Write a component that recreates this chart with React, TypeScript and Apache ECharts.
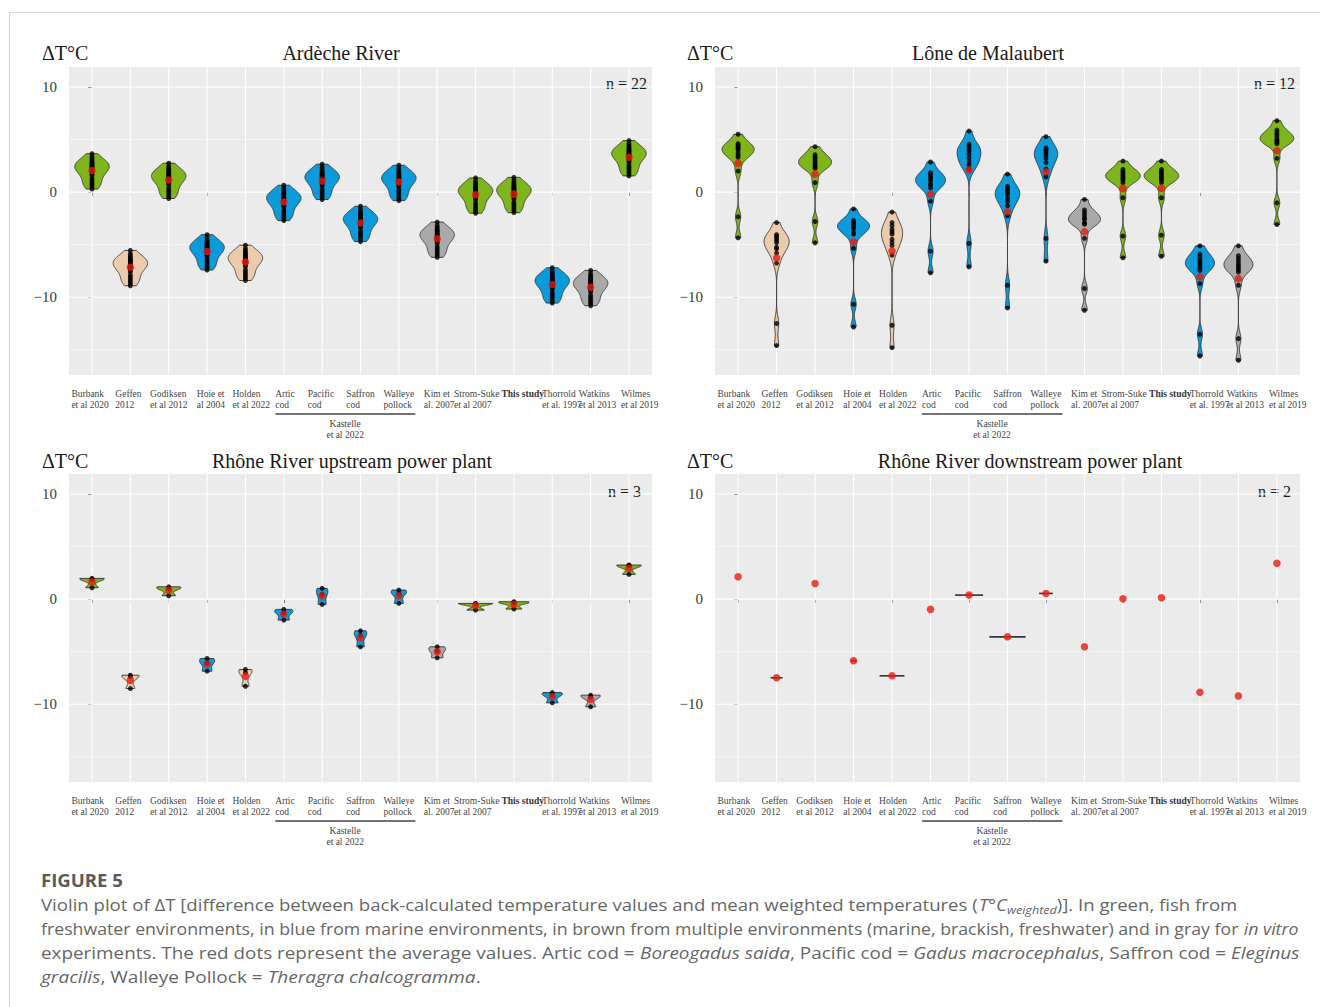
import React, { useEffect, useRef } from "react";
import * as echarts from "echarts";

// ---------------- DATA ----------------
const xLabels = [
  "Burbank\net al 2020", "Geffen\n2012", "Godiksen\net al 2012", "Hoie et\nal 2004", "Holden\net al 2022",
  "Artic\ncod", "Pacific\ncod", "Saffron\ncod", "Walleye\npollock", "Kim et\nal. 2007",
  "Strom-Suke\net al 2007", "This study", "Thorrold\net al. 1997", "Watkins\net al 2013", "Wilmes\net al 2019",
];
const environment = [
  "freshwater", "multiple", "freshwater", "marine", "multiple",
  "marine", "marine", "marine", "marine", "invitro",
  "freshwater", "freshwater", "marine", "invitro", "freshwater",
];
const yMajor = [10, 0, -10];
const yMinor = [5, -5, -15];
const panelTitles = ["Ardèche River", "Lône de Malaubert", "Rhône River upstream power plant", "Rhône River downstream power plant"];
const sampleSizes = [22, 12, 3, 2];
const groupLabel = "Kastelle\net al 2022";

// Ardèche River, n = 22 per study
const ardeche: number[][] = [
  [3.65, 3.35, 3.15, 3.0, 2.85, 2.75, 2.65, 2.55, 2.45, 2.35, 2.25, 2.15, 2.0, 1.9, 1.75, 1.6, 1.3, 1.1, 0.9, 0.7, 0.5, 0.29],
  [-5.55, -5.85, -6.05, -6.2, -6.35, -6.45, -6.55, -6.65, -6.75, -6.85, -6.95, -7.05, -7.2, -7.3, -7.45, -7.6, -7.9, -8.1, -8.3, -8.5, -8.7, -8.91],
  [2.75, 2.45, 2.25, 2.1, 1.95, 1.85, 1.75, 1.65, 1.55, 1.45, 1.35, 1.25, 1.1, 1.0, 0.85, 0.7, 0.4, 0.2, 0.0, -0.2, -0.4, -0.61],
  [-4.05, -4.35, -4.55, -4.7, -4.85, -4.95, -5.05, -5.15, -5.25, -5.35, -5.45, -5.55, -5.7, -5.8, -5.95, -6.1, -6.4, -6.6, -6.8, -7.0, -7.2, -7.41],
  [-5.05, -5.35, -5.55, -5.7, -5.85, -5.95, -6.05, -6.15, -6.25, -6.35, -6.45, -6.55, -6.7, -6.8, -6.95, -7.1, -7.4, -7.6, -7.8, -8.0, -8.2, -8.41],
  [0.65, 0.35, 0.15, 0.0, -0.15, -0.25, -0.35, -0.45, -0.55, -0.65, -0.75, -0.85, -1.0, -1.1, -1.25, -1.4, -1.7, -1.9, -2.1, -2.3, -2.5, -2.71],
  [2.65, 2.35, 2.15, 2.0, 1.85, 1.75, 1.65, 1.55, 1.45, 1.35, 1.25, 1.15, 1.0, 0.9, 0.75, 0.6, 0.3, 0.1, -0.1, -0.3, -0.5, -0.71],
  [-1.35, -1.65, -1.85, -2.0, -2.15, -2.25, -2.35, -2.45, -2.55, -2.65, -2.75, -2.85, -3.0, -3.1, -3.25, -3.4, -3.7, -3.9, -4.1, -4.3, -4.5, -4.71],
  [2.55, 2.25, 2.05, 1.9, 1.75, 1.65, 1.55, 1.45, 1.35, 1.25, 1.15, 1.05, 0.9, 0.8, 0.65, 0.5, 0.2, 0.0, -0.2, -0.4, -0.6, -0.81],
  [-2.85, -3.15, -3.35, -3.5, -3.65, -3.75, -3.85, -3.95, -4.05, -4.15, -4.25, -4.35, -4.5, -4.6, -4.75, -4.9, -5.2, -5.4, -5.6, -5.8, -6.0, -6.21],
  [1.35, 1.05, 0.85, 0.7, 0.55, 0.45, 0.35, 0.25, 0.15, 0.05, -0.05, -0.15, -0.3, -0.4, -0.55, -0.7, -1.0, -1.2, -1.4, -1.6, -1.8, -2.01],
  [1.4, 1.1, 0.9, 0.75, 0.6, 0.5, 0.4, 0.3, 0.2, 0.1, 0.0, -0.1, -0.25, -0.35, -0.5, -0.65, -0.95, -1.15, -1.35, -1.55, -1.75, -1.96],
  [-7.2, -7.5, -7.7, -7.85, -8.0, -8.1, -8.2, -8.3, -8.4, -8.5, -8.6, -8.7, -8.85, -8.95, -9.1, -9.25, -9.55, -9.75, -9.95, -10.15, -10.35, -10.56],
  [-7.45, -7.75, -7.95, -8.1, -8.25, -8.35, -8.45, -8.55, -8.65, -8.75, -8.85, -8.95, -9.1, -9.2, -9.35, -9.5, -9.8, -10.0, -10.2, -10.4, -10.6, -10.81],
  [4.9, 4.6, 4.4, 4.25, 4.1, 4.0, 3.9, 3.8, 3.7, 3.6, 3.5, 3.4, 3.25, 3.15, 3.0, 2.85, 2.55, 2.35, 2.15, 1.95, 1.75, 1.54],
];

// Lône de Malaubert, n = 12 per study
const loneMalaubert: number[][] = [
  [5.5, 4.6, 4.45, 4.3, 4.15, 4.0, 3.7, 3.5, 3.3, 2.0, -2.35, -4.35],
  [-2.9, -4.05, -4.2, -4.4, -4.6, -4.8, -5.25, -5.4, -5.8, -6.75, -12.5, -14.6],
  [4.32, 3.55, 3.35, 3.15, 2.95, 2.75, 2.55, 2.4, 2.25, 0.9, -2.8, -4.83],
  [-1.6, -2.7, -2.85, -3.0, -3.15, -3.3, -3.5, -3.85, -4.0, -5.35, -10.67, -12.83],
  [-1.9, -2.9, -3.2, -3.55, -3.8, -4.0, -4.5, -4.8, -5.1, -6.0, -12.67, -14.8],
  [2.86, 1.85, 1.65, 1.45, 1.25, 1.05, 0.7, 0.7, 0.4, -0.86, -5.62, -7.68],
  [5.8, 4.55, 4.35, 4.1, 3.9, 3.6, 3.25, 2.9, 2.6, 2.2, -4.89, -7.11],
  [1.71, 0.55, 0.35, 0.15, -0.05, -0.25, -0.6, -0.9, -1.3, -2.25, -8.86, -11.02],
  [5.27, 4.2, 4.05, 3.9, 3.7, 3.5, 3.2, 2.8, 2.2, 1.46, -4.41, -6.57],
  [-0.7, -1.7, -1.95, -2.2, -2.45, -2.6, -2.9, -3.05, -3.0, -4.4, -9.17, -11.24],
  [2.95, 2.15, 1.95, 1.8, 1.6, 1.45, 1.3, 1.15, 0.9, -0.54, -4.19, -6.25],
  [2.95, 2.15, 1.95, 1.8, 1.6, 1.45, 1.3, 1.15, 0.9, -0.54, -4.1, -6.1],
  [-5.11, -5.9, -6.15, -6.4, -6.65, -6.85, -7.05, -7.25, -7.45, -8.7, -13.52, -15.59],
  [-5.11, -6.05, -6.3, -6.55, -6.8, -7.0, -7.2, -7.4, -7.6, -8.86, -13.94, -16.0],
  [6.79, 5.9, 5.65, 5.45, 5.2, 4.73, 4.95, 4.6, 4.9, 3.21, -1.02, -3.08],
];

// Rhône River upstream power plant, n = 3 per study
const rhoneUpstream: number[][] = [
  [1.97, 1.9, 1.08],
  [-7.24, -7.38, -8.51],
  [1.17, 1.0, 0.32],
  [-5.65, -6.06, -6.86],
  [-6.7, -7.0, -8.29],
  [-0.98, -1.31, -2.0],
  [1.02, 0.45, -0.51],
  [-3.02, -3.48, -4.54],
  [0.86, 0.51, -0.41],
  [-4.54, -4.93, -5.59],
  [-0.41, -0.43, -1.05],
  [-0.25, -0.35, -0.95],
  [-8.89, -9.14, -9.87],
  [-9.14, -9.29, -10.25],
  [3.24, 3.17, 2.35],
];

// Rhône River downstream power plant, n = 2: mean values and widths of the collapsed violins
const rhoneDownstreamMeans = [2.13, -7.49, 1.49, -5.87, -7.3, -0.98, 0.38, -3.59, 0.54, -4.54, 0.03, 0.13, -8.86, -9.21, 3.4];
const rhoneDownstreamWidths = [0, 0.31, 0, 0.14, 0.65, 0, 0.73, 0.94, 0.36, 0, 0, 0, 0, 0, 0];

const captionHeading = "FIGURE 5";
const captionLines: [string, string][][] = [
  [["Violin plot of ΔT [difference between back-calculated temperature values and mean weighted temperatures (", "n"], ["T°C", "i"], ["weighted", "s"], [")]. In green, fish from", "n"]],
  [["freshwater environments, in blue from marine environments, in brown from multiple environments (marine, brackish, freshwater) and in gray for ", "n"], ["in vitro", "i"]],
  [["experiments. The red dots represent the average values. Artic cod = ", "n"], ["Boreogadus saida", "i"], [", Pacific cod = ", "n"], ["Gadus macrocephalus", "i"], [", Saffron cod = ", "n"], ["Eleginus", "i"]],
  [["gracilis", "i"], [", Walleye Pollock = ", "n"], ["Theragra chalcogramma", "i"], [".", "n"]],
];

// ---------------- STYLE / LAYOUT ----------------
const SERIF = "'Liberation Serif', 'Times New Roman', serif";
const SANS = "'Open Sans', 'Noto Sans', sans-serif";
const envColors: Record<string, string> = {
  freshwater: "#7EB51B",
  marine: "#0B9BDA",
  multiple: "#EBCBAB",
  invitro: "#A9A9A9",
};
const X_MIN = -0.6, X_MAX = 14.6, Y_MIN = -17.4, Y_MAX = 11.9;
const layouts = [
  { left: 69, top: 67, width: 583, height: 308, headX: 42, titleX: 341, headY: 53, nRight: 647, nY: 83 },
  { left: 715, top: 67, width: 585, height: 308, headX: 687, titleX: 988, headY: 53, nRight: 1295, nY: 83 },
  { left: 69, top: 474, width: 583, height: 308, headX: 42, titleX: 352, headY: 461, nRight: 641, nY: 491 },
  { left: 715, top: 474, width: 585, height: 308, headX: 687, titleX: 1030, headY: 461, nRight: 1291, nY: 491 },
];
// horizontal nudge (in category units) of each tick-label block, as placed in the reference
const labelShift = [-0.05, -0.05, 0, 0.1, 0.15, 0.03, -0.03, 0, 0, 0.05, 0.03, 0.23, 0.25, 0.18, 0.28];
const captionX = 41;
const captionYs = [904, 928, 952, 976];
const captionTargetW = [1197, 1257, 1259, 440];

// ---------------- HELPERS ----------------
function quantile7(s: number[], p: number) {
  const h = (s.length - 1) * p;
  const lo = Math.floor(h), hi = Math.ceil(h);
  return s[lo] + (h - lo) * (s[hi] - s[lo]);
}
function bwNrd0(s: number[]) {
  const n = s.length;
  const m = s.reduce((a, b) => a + b, 0) / n;
  const sd = Math.sqrt(s.reduce((a, b) => a + (b - m) * (b - m), 0) / (n - 1));
  const iqr = quantile7(s, 0.75) - quantile7(s, 0.25);
  let lo = Math.min(sd, iqr / 1.34);
  if (!lo) lo = sd || Math.abs(s[0]) || 1;
  return 0.9 * lo * Math.pow(n, -0.2);
}
function violinProfiles(list: number[][]) {
  const raw = list.map((arr) => {
    const s = [...arr].sort((a, b) => a - b);
    const bw = bwNrd0(s);
    const lo = s[0], hi = s[s.length - 1];
    const N = 160;
    const ys: number[] = [], d: number[] = [];
    for (let k = 0; k < N; k++) {
      const y = lo + ((hi - lo) * k) / (N - 1);
      let sum = 0;
      for (const x of s) {
        const z = (y - x) / bw;
        sum += Math.exp(-0.5 * z * z);
      }
      ys.push(y);
      d.push(sum / (s.length * bw * Math.sqrt(2 * Math.PI)));
    }
    return { ys, d };
  });
  const maxD = Math.max(...raw.map((r) => Math.max(...r.d)));
  return raw.map((r) => ({ ys: r.ys, hw: r.d.map((v) => (0.45 * v) / maxD) }));
}
const mean = (a: number[]) => a.reduce((x, y) => x + y, 0) / a.length;
function textW(t: string, font: string) {
  const c = document.createElement("canvas").getContext("2d")!;
  c.font = font;
  return c.measureText(t).width;
}

const labelRich = {
  l: { fontFamily: SERIF, fontSize: 9.5, lineHeight: 11, color: "#444", align: "left" },
  b: { fontFamily: SERIF, fontSize: 9.5, lineHeight: 11, color: "#333", fontWeight: "bold", align: "left" },
};

function buildOption() {
  const cats = xLabels.map((_, i) => i);
  const labelPos = cats.map((i) => i + labelShift[i]);
  const grid: any[] = [], xAxis: any[] = [], yAxis: any[] = [], series: any[] = [], graphic: any[] = [];
  const panelSamples = [ardeche, loneMalaubert, rhoneUpstream, null];

  layouts.forEach((L, p) => {
    grid.push({ left: L.left, top: L.top, width: L.width, height: L.height, show: true, backgroundColor: "#EBEBEB", borderWidth: 0 });
    xAxis.push({
      gridIndex: p, type: "value", min: X_MIN, max: X_MAX,
      axisLine: { show: false }, splitLine: { show: false },
      axisTick: { show: true, customValues: cats, length: 4, lineStyle: { color: "#333", width: 1 } },
      axisLabel: {
        customValues: labelPos, margin: 13, hideOverlap: false, showMinLabel: true, showMaxLabel: true,
        formatter: (v: number) => {
          const lab = xLabels[Math.round(v)] || "";
          if (lab === "This study") return "{b|This study}";
          return lab.split("\n").map((s) => `{l|${s}}`).join("\n");
        },
        rich: labelRich,
      },
    });
    yAxis.push({
      gridIndex: p, type: "value", min: Y_MIN, max: Y_MAX,
      axisLine: { show: false }, splitLine: { show: false },
      axisTick: { show: true, customValues: yMajor, length: 4, lineStyle: { color: "#333", width: 1 } },
      axisLabel: {
        customValues: yMajor, margin: 12, fontFamily: SERIF, fontSize: 15, color: "#3a3a3a",
        showMinLabel: true, showMaxLabel: true,
        formatter: (v: number) => (v < 0 ? "\u2212" + Math.abs(v) : String(v)),
      },
    });

    // grid lines
    const gl: number[][] = [
      ...yMajor.map((v) => [0, v, 0]),
      ...yMinor.map((v) => [0, v, 1]),
      ...cats.map((i) => [i, 0, 2]),
    ];
    series.push({
      type: "custom", xAxisIndex: p, yAxisIndex: p, z: 1, silent: true, clip: false,
      encode: { x: 0, y: 1 }, data: gl,
      renderItem: (params: any, api: any) => {
        const cs = params.coordSys;
        const k = api.value(2);
        if (k === 2) {
          const pt = api.coord([api.value(0), 0]);
          return { type: "line", shape: { x1: pt[0], y1: cs.y, x2: pt[0], y2: cs.y + cs.height }, style: { stroke: "#FFFFFF", lineWidth: 1.1 } };
        }
        const pt = api.coord([0, api.value(1)]);
        return { type: "line", shape: { x1: cs.x, y1: pt[1], x2: cs.x + cs.width, y2: pt[1] }, style: { stroke: "#FFFFFF", lineWidth: k === 0 ? 1.1 : 0.55 } };
      },
    });

    const samples = panelSamples[p];
    if (samples) {
      const prof = violinProfiles(samples);
      series.push({
        type: "custom", xAxisIndex: p, yAxisIndex: p, z: 2, silent: true, clip: false,
        encode: { x: 0, y: 1 }, data: samples.map((s, i) => [i, mean(s)]),
        renderItem: (params: any, api: any) => {
          const i = params.dataIndex;
          const pr = prof[i];
          const pts: number[][] = [];
          for (let k = 0; k < pr.ys.length; k++) pts.push(api.coord([i + pr.hw[k], pr.ys[k]]));
          for (let k = pr.ys.length - 1; k >= 0; k--) pts.push(api.coord([i - pr.hw[k], pr.ys[k]]));
          return { type: "polygon", shape: { points: pts }, style: { fill: envColors[environment[i]], stroke: "#333333", lineWidth: 0.9 } };
        },
      });
      series.push({
        type: "scatter", xAxisIndex: p, yAxisIndex: p, z: 3, silent: true, symbolSize: 5,
        itemStyle: { color: "#000000" },
        data: samples.flatMap((s, i) => s.map((v) => [i, v])),
      });
      series.push({
        type: "scatter", xAxisIndex: p, yAxisIndex: p, z: 4, silent: true, symbolSize: 7.5,
        itemStyle: { color: "#E8190F" },
        data: samples.map((s, i) => [i, mean(s)]),
      });
    } else {
      series.push({
        type: "custom", xAxisIndex: p, yAxisIndex: p, z: 2, silent: true, clip: false,
        encode: { x: 0, y: 1 },
        data: rhoneDownstreamMeans.map((m, i) => [i, m, rhoneDownstreamWidths[i]]),
        renderItem: (params: any, api: any) => {
          const w = api.value(2);
          if (!w) return null;
          const a = api.coord([api.value(0) - w / 2, api.value(1)]);
          const b = api.coord([api.value(0) + w / 2, api.value(1)]);
          return { type: "line", shape: { x1: a[0], y1: a[1], x2: b[0], y2: b[1] }, style: { stroke: "#333333", lineWidth: 1.6 } };
        },
      });
      series.push({
        type: "scatter", xAxisIndex: p, yAxisIndex: p, z: 4, silent: true, symbolSize: 7.5,
        itemStyle: { color: "#E8190F" },
        data: rhoneDownstreamMeans.map((m, i) => [i, m]),
      });
    }

    // headings
    graphic.push({ type: "text", x: L.headX, y: L.headY, style: { text: "ΔT°C", fontFamily: SERIF, fontSize: 20, fill: "#1a1a1a", align: "left", verticalAlign: "middle", textAlign: "left", textVerticalAlign: "middle" } });
    graphic.push({ type: "text", x: L.titleX, y: L.headY, style: { text: panelTitles[p], fontFamily: SERIF, fontSize: 20, fill: "#1a1a1a", align: "center", verticalAlign: "middle", textAlign: "center", textVerticalAlign: "middle" } });
    graphic.push({ type: "text", x: L.nRight, y: L.nY, style: { text: `n = ${sampleSizes[p]}`, fontFamily: SERIF, fontSize: 16, fill: "#1a1a1a", align: "right", verticalAlign: "middle", textAlign: "right", textVerticalAlign: "middle" } });

    // Kastelle bracket
    const u = L.width / (X_MAX - X_MIN);
    const px = (v: number) => L.left + (v - X_MIN) * u;
    const bottom = L.top + L.height;
    graphic.push({ type: "line", shape: { x1: px(5) - 0.22 * u, y1: bottom + 39, x2: px(8) + 0.43 * u, y2: bottom + 39 }, style: { stroke: "#444", lineWidth: 1.3 } });
    graphic.push({ type: "text", x: px(6.6), y: bottom + 43.5, style: { text: groupLabel, fontFamily: SERIF, fontSize: 9.5, lineHeight: 11, fill: "#444", align: "center", verticalAlign: "top", textAlign: "center", textVerticalAlign: "top" } });
  });

  // frame
  graphic.push({ type: "rect", z: -10, shape: { x: 9.5, y: 12.5, width: 1400, height: 1100 }, style: { fill: "none", stroke: "#D5D5D5", lineWidth: 1 } });

  // caption
  const hFont = `bold 18px "Open Sans"`;
  graphic.push({
    type: "text", x: captionX, y: 880, scaleX: 82 / textW(captionHeading, hFont),
    style: { text: captionHeading, fontFamily: SANS, fontSize: 18, fontWeight: "bold", fill: "#58595B", align: "left", verticalAlign: "middle", textAlign: "left", textVerticalAlign: "middle" },
  });
  const fonts: Record<string, string> = { n: `17px "Open Sans"`, i: `italic 17px "Open Sans"`, s: `italic 11.5px "Open Sans"` };
  const capRich = {
    n: { fontFamily: SANS, fontSize: 17, lineHeight: 24, fill: "#666666", color: "#666666" },
    i: { fontFamily: SANS, fontSize: 17, fontStyle: "italic", lineHeight: 24, fill: "#666666", color: "#666666" },
    s: { fontFamily: SANS, fontSize: 11.5, fontStyle: "italic", lineHeight: 15, verticalAlign: "bottom", fill: "#666666", color: "#666666" },
  };
  captionLines.forEach((parts, li) => {
    const w = parts.reduce((a, [t, k]) => a + textW(t, fonts[k]), 0);
    graphic.push({
      type: "text", x: captionX, y: captionYs[li], scaleX: captionTargetW[li] / w,
      style: {
        text: parts.map(([t, k]) => `{${k}|${t}}`).join(""), rich: capRich,
        fontFamily: SANS, fontSize: 17, fill: "#666666", align: "left", verticalAlign: "middle", textAlign: "left", textVerticalAlign: "middle",
      },
    });
  });

  return { animation: false, backgroundColor: "#FFFFFF", grid, xAxis, yAxis, series, graphic };
}

export default function App() {
  const ref = useRef<HTMLDivElement>(null);
  useEffect(() => {
    document.body.style.margin = "0";
    const chart = echarts.init(ref.current!, null, { renderer: "svg" });
    chart.setOption(buildOption() as any);
    return () => chart.dispose();
  }, []);
  return <div ref={ref} style={{ width: 1320, height: 1007 }} />;
}
